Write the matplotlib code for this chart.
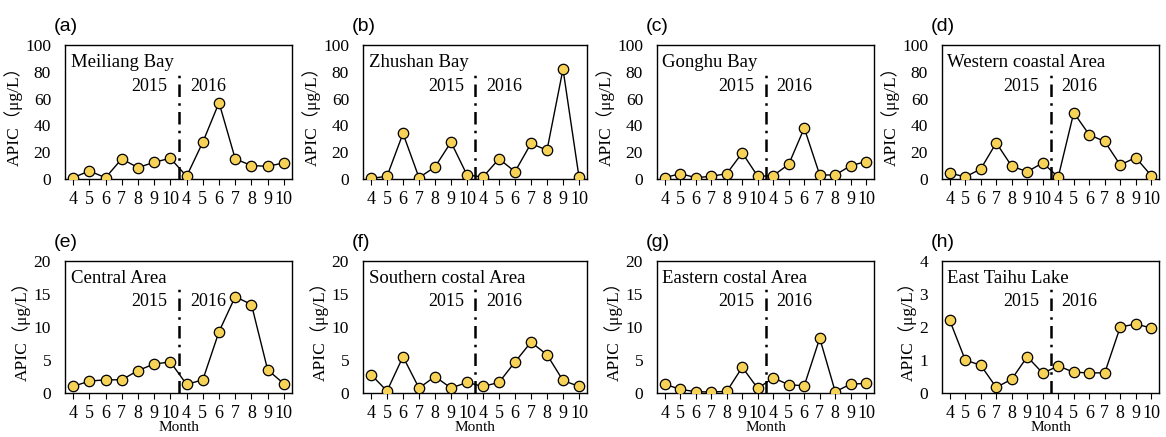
import matplotlib.pyplot as plt

# months sampled in 2015 and 2016
months = ['4', '5', '6', '7', '8', '9', '10', '4', '5', '6', '7', '8', '9', '10']

panel_tags = ['(a)', '(b)', '(c)', '(d)', '(e)', '(f)', '(g)', '(h)']
areas = ['Meiliang Bay', 'Zhushan Bay', 'Gonghu Bay', 'Western coastal Area',
         'Central Area', 'Southern costal Area', 'Eastern costal Area', 'East Taihu Lake']

meiliang = [1, 6, 1, 15, 8.5, 12.5, 15.5, 2, 27.5, 57, 15, 10, 9.5, 12]
zhushan = [0.5, 2, 34, 1, 9, 27.5, 3, 1.5, 15, 5.5, 26.5, 21.5, 82, 1.5]
gonghu = [1, 4, 1, 2, 4, 19.5, 2, 2.5, 11, 38, 3, 3, 10, 13]
western = [4.5, 1.5, 7.5, 27, 9.5, 5.5, 12, 1.5, 49.5, 33, 28, 10.5, 16, 2.5]
central = [1.0, 1.8, 2.0, 2.0, 3.4, 4.4, 4.7, 1.3, 2.0, 9.3, 14.6, 13.4, 3.5, 1.4]
southern = [2.8, 0.3, 5.5, 0.75, 2.5, 0.75, 1.6, 1.0, 1.6, 4.7, 7.7, 5.8, 1.9, 1.0]
eastern = [1.35, 0.55, 0.2, 0.15, 0.25, 3.9, 0.7, 2.3, 1.25, 1.1, 8.3, 0.2, 1.35, 1.45]
east_taihu = [2.2, 1.0, 0.84, 0.17, 0.42, 1.1, 0.6, 0.82, 0.63, 0.61, 0.61, 2.0, 2.09, 1.97]

series = [meiliang, zhushan, gonghu, western, central, southern, eastern, east_taihu]
y_tops = [100, 100, 100, 100, 20, 20, 20, 4]
y_steps = [20, 20, 20, 20, 5, 5, 5, 1]

serif = ['Liberation Serif', 'Noto Sans CJK SC']
plt.rcParams['font.family'] = serif

W, H = 1166, 437
fig = plt.figure(figsize=(W / 100, H / 100), dpi=100)

lefts = [65, 363, 657, 942]
rights = [292, 587, 874, 1159]
rows = [(45, 179), (261, 393)]

x = list(range(len(months)))
for i in range(8):
    r, c = divmod(i, 4)
    top, bot = rows[r]
    ax = fig.add_axes([lefts[c] / W, 1 - bot / H, (rights[c] - lefts[c]) / W, (bot - top) / H])
    ax.plot(x, series[i], color='black', lw=1.0, marker='o', ms=7.5,
            mfc='#F6D257', mec='black', mew=0.9, zorder=3)
    ax.axvline(6.5, ymin=0, ymax=0.79, color='black', ls=(0, (5, 2.5, 1, 2.5)), lw=1.8, zorder=2)
    ax.set_xlim(-0.5, 13.5)
    ax.set_ylim(0, y_tops[i])
    ax.set_yticks([k * y_steps[i] for k in range(int(y_tops[i] / y_steps[i]) + 1)])
    ax.set_xticks(x)
    ax.set_xticklabels(months)
    ax.tick_params(axis='x', direction='out', length=4, width=0.8, labelsize=13, pad=5)
    ax.tick_params(axis='y', direction='out', length=0, labelsize=12.5, pad=10)
    for s in ax.spines.values():
        s.set_linewidth(1.0)
    ax.set_ylabel('APIC（μg/L）', fontsize=12.5, labelpad=2)
    ax.text(0.025, 0.87, areas[i], transform=ax.transAxes, fontsize=13.5, va='center', ha='left')
    ax.text(0.45, 0.69, '2015', transform=ax.transAxes, fontsize=13, va='center', ha='right')
    ax.text(0.55, 0.69, '2016', transform=ax.transAxes, fontsize=13, va='center', ha='left')
    ax.text(-0.05, 1.14, panel_tags[i], transform=ax.transAxes, fontsize=14,
            family='Liberation Sans', va='center', ha='left')
    if r == 1:
        ax.set_xlabel('Month', fontsize=11)
        ax.xaxis.set_label_coords(0.5, -0.215)

fig.savefig('out.png', dpi=100)
